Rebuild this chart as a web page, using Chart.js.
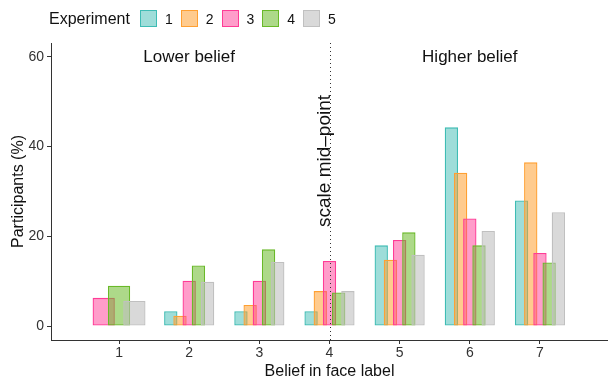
<!DOCTYPE html>
<html>
<head>
<meta charset="utf-8">
<script src="https://cdn.jsdelivr.net/npm/chart.js@4.4.0/dist/chart.umd.min.js"></script>
<style>
html,body{margin:0;padding:0;background:#fff;}
#wrap{position:relative;width:608px;height:381px;}
#legend{position:absolute;left:49px;top:10px;height:17px;display:flex;align-items:center;font-family:"Liberation Sans",Arial,sans-serif;color:#111;}
#legend .ttl{font-size:16px;margin-right:10px;}
#legend .item{display:flex;align-items:center;margin-right:8px;}
#legend .box{width:17px;height:17px;box-sizing:border-box;border:1.3px solid;margin-right:8px;}
#legend .lab{font-size:14px;}
</style>
</head>
<body>
<div id="wrap">
<canvas id="c" width="608" height="381"></canvas>
<div id="legend"></div>
</div>
<script>
// ---- data ----
const categories = [1, 2, 3, 4, 5, 6, 7];
const experimentNames = ['1', '2', '3', '4', '5'];
const exp1 = [null, 3.3, 3.3, 3.3, 18.0, 44.3, 28.0];
const exp2 = [null, 2.3, 4.7, 7.8, 14.8, 34.2, 36.5];
const exp3 = [6.3, 10.1, 10.1, 14.5, 19.2, 24.0, 16.3];
const exp4 = [9.0, 13.5, 17.1, 7.5, 20.9, 18.0, 14.2];
const exp5 = [5.6, 9.9, 14.3, 7.8, 15.9, 21.2, 25.4];
const yTicks = [0, 20, 40, 60];
const xTicks = [1, 2, 3, 4, 5, 6, 7];
const legendTitle = 'Experiment';
const xTitle = 'Belief in face label';
const yTitle = 'Participants (%)';
const regionLabels = ['Lower belief', 'Higher belief'];
const regionLabelX = [2, 6];
const regionLabelY = 60;
const midPoint = 4;
const midPointLabel = 'scale mid\u2013point';
const midPointLabelY = 36.8;

// ---- styles ----
const borderColors = ['rgb(62,188,180)', 'rgb(255,160,50)', 'rgb(255,60,150)', 'rgb(105,185,40)', 'rgb(192,192,192)'];
const fillColors = ['rgba(62,188,180,0.5)', 'rgba(255,160,50,0.55)', 'rgba(255,60,150,0.5)', 'rgba(105,185,40,0.55)', 'rgba(192,192,192,0.6)'];
const FONT = '"Liberation Sans", Arial, sans-serif';
Chart.defaults.font.family = FONT;

const seriesList = [exp1, exp2, exp3, exp4, exp5];
const datasets = seriesList.map((vals, i) => ({
  label: experimentNames[i],
  data: categories.map((c, j) => ({ x: c, y: vals[j] })),
  backgroundColor: fillColors[i],
  borderColor: borderColors[i],
  borderWidth: 1.3,
  borderSkipped: false,
  categoryPercentage: 0.656,
  barPercentage: 1.45,
  skipNull: true
}));

const layerPlugin = {
  id: 'layer',
  beforeDatasetsDraw(chart) {
    const metas = chart.getSortedVisibleDatasetMetas();
    for (const m of metas) m.controller.draw();
    return false;
  }
};

const annotPlugin = {
  id: 'annot',
  afterDraw(chart) {
    const { ctx, chartArea, scales } = chart;
    const xs = scales.x, ys = scales.y;
    ctx.save();
    // dotted mid-point line
    const mx = Math.round(xs.getPixelForValue(midPoint)) + 0.5;
    ctx.strokeStyle = '#333';
    ctx.lineWidth = 1;
    ctx.setLineDash([1, 3]);
    ctx.beginPath();
    ctx.moveTo(mx, chartArea.top);
    ctx.lineTo(mx, chartArea.bottom);
    ctx.stroke();
    ctx.setLineDash([]);
    // region labels
    ctx.fillStyle = '#111';
    ctx.font = '17px ' + FONT;
    ctx.textAlign = 'center';
    ctx.textBaseline = 'middle';
    regionLabels.forEach((t, i) => {
      ctx.fillText(t, xs.getPixelForValue(regionLabelX[i]), ys.getPixelForValue(regionLabelY));
    });
    // rotated mid-point label
    ctx.font = '19px ' + FONT;
    ctx.translate(mx - 1, ys.getPixelForValue(midPointLabelY));
    ctx.rotate(-Math.PI / 2);
    ctx.textAlign = 'center';
    ctx.textBaseline = 'alphabetic';
    ctx.fillText(midPointLabel, 0, 0);
    ctx.restore();
  }
};

const chart = new Chart(document.getElementById('c'), {
  type: 'bar',
  data: { datasets },
  options: {
    responsive: false,
    animation: false,
    layout: { padding: { top: 43, right: 0, left: 0, bottom: 0 } },
    plugins: { legend: { display: false }, tooltip: { enabled: false }, title: { display: false } },
    scales: {
      x: {
        type: 'linear',
        min: 0.03,
        max: 7.97,
        offset: false,
        afterBuildTicks: s => { s.ticks = xTicks.map(v => ({ value: v })); },
        afterFit: s => { s.height = 41; },
        grid: { display: true, drawOnChartArea: false, drawTicks: true, tickLength: 4, color: '#333', offset: false },
        border: { display: true, color: '#333', width: 1 },
        ticks: { color: '#333', font: { size: 14 }, padding: 1, maxRotation: 0, autoSkip: false },
        title: { display: true, text: xTitle, color: '#111', font: { size: 16 }, padding: { top: 0, bottom: 0 } }
      },
      y: {
        type: 'linear',
        min: -3.1,
        max: 63.1,
        afterBuildTicks: s => { s.ticks = yTicks.map(v => ({ value: v })); },
        afterFit: s => { s.width = 51; },
        grid: { display: true, drawOnChartArea: false, drawTicks: true, tickLength: 4, color: '#333' },
        border: { display: true, color: '#333', width: 1 },
        ticks: { color: '#333', font: { size: 14 }, padding: 3 },
        title: { display: true, text: yTitle, color: '#111', font: { size: 16 }, padding: { top: 9, bottom: 0 } }
      }
    }
  },
  plugins: [layerPlugin, annotPlugin]
});

// HTML legend built from the chart's datasets
const legendEl = document.getElementById('legend');
const ttl = document.createElement('span');
ttl.className = 'ttl';
ttl.textContent = legendTitle;
legendEl.appendChild(ttl);
chart.data.datasets.forEach(ds => {
  const item = document.createElement('span');
  item.className = 'item';
  const box = document.createElement('span');
  box.className = 'box';
  box.style.background = ds.backgroundColor;
  box.style.borderColor = ds.borderColor;
  const lab = document.createElement('span');
  lab.className = 'lab';
  lab.textContent = ds.label;
  item.appendChild(box);
  item.appendChild(lab);
  legendEl.appendChild(item);
});
</script>
</body>
</html>
